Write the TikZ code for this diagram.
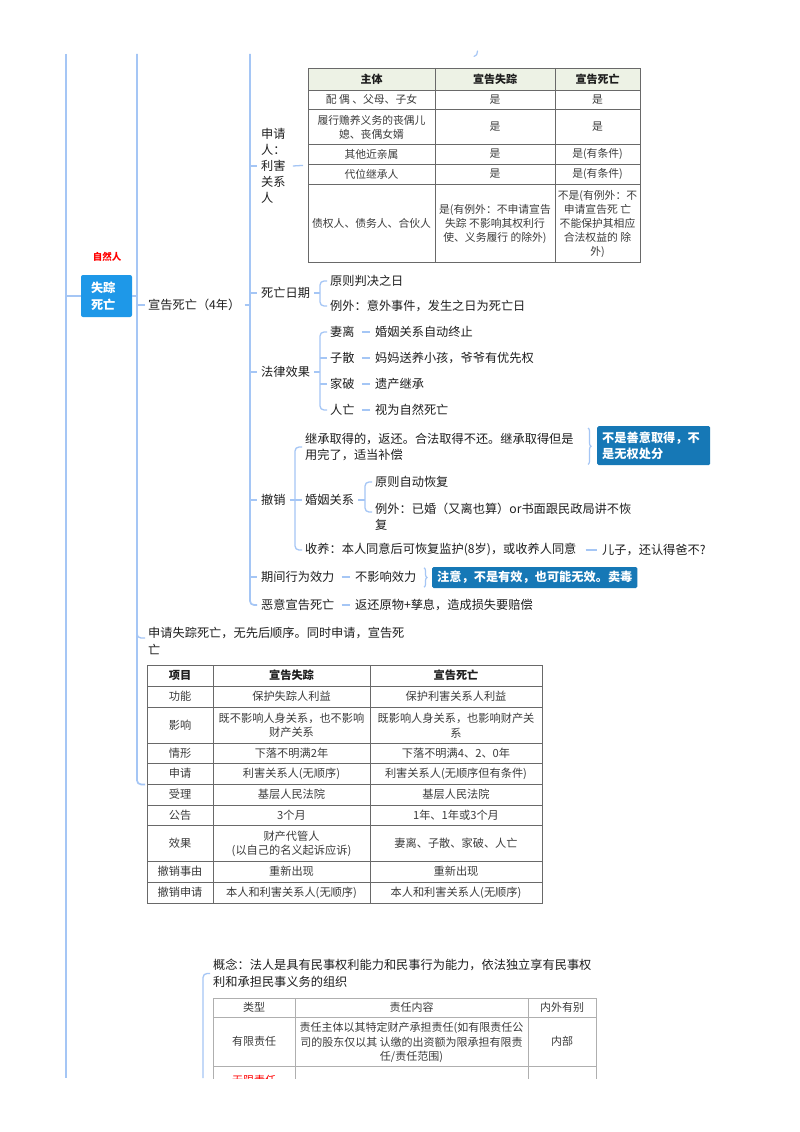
\documentclass[tikz,border=0pt]{standalone}
\usepackage{fontspec}
\setmainfont{Noto Sans CJK SC}
\usetikzlibrary{decorations.pathreplacing}
\definecolor{lineblue}{RGB}{165,198,245}
\definecolor{boxblue}{RGB}{30,152,232}
\definecolor{callblue}{RGB}{22,120,182}
\definecolor{hdrgreen}{RGB}{237,242,229}
\definecolor{txt}{RGB}{30,30,30}
\definecolor{celltxt}{RGB}{60,60,60}
\definecolor{tblline}{RGB}{105,105,105}
\definecolor{tbllight}{RGB}{175,175,175}
\begin{document}
\begin{tikzpicture}[x=1pt,y=-1pt,
  mm/.style={anchor=west, inner sep=0pt, text=txt, font=\fontsize{12.2}{16}\selectfont, align=left},
  cella/.style={inner sep=0pt, text=celltxt, font=\fontsize{10.8}{14}\selectfont, align=center},
  hcella/.style={inner sep=0pt, text=txt, font=\fontsize{11}{14}\selectfont\bfseries, align=center},
  cellb/.style={inner sep=0pt, text=celltxt, font=\fontsize{11.2}{14.5}\selectfont, align=center},
  hcellb/.style={inner sep=0pt, text=txt, font=\fontsize{11.2}{14.5}\selectfont\bfseries, align=center},
  cellc/.style={inner sep=0pt, text=celltxt, font=\fontsize{11}{14.5}\selectfont, align=center},
  conn/.style={draw=lineblue, line width=1.3pt, rounded corners=4pt},
  trunk/.style={draw=lineblue, line width=1.7pt, rounded corners=4pt},
  brc/.style={draw=lineblue, line width=1.2pt, decorate, decoration={brace, amplitude=3pt}},
  callout/.style={fill=callblue, rounded corners=1.5pt, text=white, font=\fontsize{12.2}{16}\selectfont\bfseries, align=left, inner xsep=5pt, inner ysep=0pt},
  grida/.style={draw=tblline, line width=0.8pt},
  gridc/.style={draw=tbllight, line width=0.8pt},
]
\useasboundingbox (0,0) rectangle (800,1132);
\fill[white] (0,0) rectangle (800,1132);

\coordinate (xA) at (66,0);
\coordinate (xB) at (137,0);
\coordinate (xC) at (250,0);
\coordinate (xD) at (320,0);
\coordinate (xE) at (295,0);
\coordinate (xF) at (365,0);

% ---------- root ----------
\node[fill=boxblue, rounded corners=2pt, text=white, font=\fontsize{12.2}{17}\selectfont\bfseries, align=left, text width=31pt, inner xsep=10pt, inner ysep=0pt, minimum height=42pt] (szsw) at (106.5,296) {失踪\\死亡};
\node[text=red, font=\fontsize{9.5}{11}\selectfont\bfseries, inner sep=0pt] (zrr) at (107,257) {自然人};

\draw[trunk] (66,54) -- (66,1078);
\draw[conn] (xA |- szsw.west) -- (szsw.west);

% ---------- level 2 ----------
\node[mm] (xgsw) at (148,305) {宣告死亡（4年）};
\node[mm, font=\fontsize{12.2}{17}\selectfont] (sq) at (148,641) {申请失踪死亡，无先后顺序。同时申请，宣告死\\亡};
\node[grida, draw, minimum width=395pt, minimum height=238pt, inner sep=0pt, anchor=north west] (t2) at (147,665) {};

\draw[conn] (szsw.east) -- (xB |- szsw.east);
\draw[trunk] (137,54) |- ([xshift=-2pt]t2.west);
\draw[conn] (xB |- xgsw.west) -- ([xshift=-3pt]xgsw.west);
\draw[conn] (137,600) |- ([xshift=-3pt,yshift=3pt]sq.west);

% ---------- level 3 ----------
\node[mm] (sqr) at (261,166) {申请\\人：\\利害\\关系\\人};
\node[mm] (swrq) at (261,293) {死亡日期};
\node[mm] (flxg) at (261,372) {法律效果};
\node[mm] (cx) at (261,500) {撤销};
\node[mm] (qjxw) at (261,577) {期间行为效力};
\node[mm] (emy) at (261,605) {恶意宣告死亡};

\draw[conn] ([xshift=4pt]xgsw.east) -- (xC |- xgsw.east);
\draw[trunk] (250,54) |- ([xshift=-4pt]emy.west);
\foreach \n in {sqr,swrq,flxg,cx,qjxw} \draw[conn] (xC |- \n.west) -- ([xshift=-4pt]\n.west);

% small mark at top
\draw[lineblue, line width=1.2pt, line cap=round] (477.5,51) .. controls (477.5,54) and (476.5,56) .. (474,56.5);

% ---------- table 1 ----------
\fill[hdrgreen] (308,68) rectangle (640,90);
\node[grida, draw, minimum width=332pt, minimum height=194pt, inner sep=0pt, anchor=north west] (t1) at (308,68) {};
\foreach \y in {90,109,144,164,184} \draw[grida] (308,\y) -- (640,\y);
\foreach \x in {435,555} \draw[grida] (\x,68) -- (\x,262);
\draw[conn] ([xshift=7pt]sqr.east) -- ([xshift=-5pt]t1.west);

\node[hcella] (t1h1) at (371.5,79) {主体};
\node[hcella] (t1h2) at (495,79) {宣告失踪};
\node[hcella] (t1h3) at (597.5,79) {宣告死亡};
\node[cella] (t1a1) at (371.5,99.5) {配 偶 、父母、子女};
\node[cella] (t1a2) at (495,99.5) {是};
\node[cella] (t1a3) at (597.5,99.5) {是};
\node[cella] (t1b1) at (371.5,127) {履行赡养义务的丧偶儿\\媳、丧偶女婿};
\node[cella] (t1b2) at (495,126.5) {是};
\node[cella] (t1b3) at (597.5,126.5) {是};
\node[cella] (t1c1) at (371.5,154) {其他近亲属};
\node[cella] (t1c2) at (495,154) {是};
\node[cella] (t1c3) at (597.5,154) {是(有条件)};
\node[cella] (t1d1) at (371.5,174) {代位继承人};
\node[cella] (t1d2) at (495,174) {是};
\node[cella] (t1d3) at (597.5,174) {是(有条件)};
\node[cella] (t1e1) at (371.5,223) {债权人、债务人、合伙人};
\node[cella] (t1e2) at (495,224) {是(有例外：不申请宣告\\失踪 不影响其权利行\\使、义务履行 的除外)};
\node[cella] (t1e3) at (597.5,224) {不是(有例外：不\\申请宣告死 亡\\不能保护其相应\\合法权益的 除\\外)};

% ---------- 死亡日期 ----------
\node[mm] (yzpj) at (330,281) {原则判决之日};
\node[mm] (lwsj) at (330,306) {例外：意外事件，发生之日为死亡日};
\draw[conn] ([xshift=4pt]swrq.east) -- (xD |- swrq.east);
\draw[conn] ([xshift=-3pt]yzpj.west) -| (xD |- lwsj.west) -- ([xshift=-3pt]lwsj.west);

% ---------- 法律效果 ----------
\node[mm] (ql) at (330,332) {妻离};
\node[mm] (zs) at (330,358) {子散};
\node[mm] (jp) at (330,384) {家破};
\node[mm] (rw) at (330,410) {人亡};
\node[mm] (ql2) at (375,332) {婚姻关系自动终止};
\node[mm] (zs2) at (375,358) {妈妈送养小孩，爷爷有优先权};
\node[mm] (jp2) at (375,384) {遗产继承};
\node[mm] (rw2) at (375,410) {视为自然死亡};
\draw[conn] ([xshift=4pt]flxg.east) -- (xD |- flxg.east);
\draw[conn] ([xshift=-3pt]ql.west) -| (xD |- rw.west) -- ([xshift=-3pt]rw.west);
\draw[conn] (xD |- zs.west) -- ([xshift=-3pt]zs.west);
\draw[conn] (xD |- jp.west) -- ([xshift=-3pt]jp.west);
\foreach \a/\b in {ql/ql2,zs/zs2,jp/jp2,rw/rw2} \draw[conn] ([xshift=7pt]\a.east) -- ([xshift=-5pt]\b.west);

% ---------- 撤销 ----------
\node[mm] (jcqd) at (305,447) {继承取得的，返还。合法取得不还。继承取得但是\\用完了，适当补偿};
\node[mm] (hygx) at (305,500) {婚姻关系};
\node[mm] (sy) at (305,550) {收养：本人同意后可恢复监护(8岁)，或收养人同意};
\node[mm] (ez) at (602,550) {儿子，还认得爸不?};
\draw[conn] ([xshift=4pt]cx.east) -- (xE |- cx.east);
\draw[conn] ([xshift=-3pt]jcqd.west) -| (xE |- sy.west) -- ([xshift=-3pt]sy.west);
\draw[conn] (xE |- hygx.west) -- ([xshift=-3pt]hygx.west);
\draw[conn] ([xshift=9pt]sy.east) -- ([xshift=-5pt]ez.west);

\node[mm] (yzzd) at (375,482) {原则自动恢复};
\node[mm] (lwyh) at (375,517) {例外：已婚（又离也算）or书面跟民政局讲不恢\\复};
\draw[conn] ([xshift=4pt]hygx.east) -- (xF |- hygx.east);
\draw[conn] ([xshift=-3pt]yzzd.west) -| ([xshift=-10pt,yshift=5pt]lwyh.west) -- ([xshift=-3pt,yshift=5pt]lwyh.west);

\node[callout, text width=103pt, minimum height=39pt, anchor=north west] (bsy) at (597,426) {不是善意取得，不\\是无权处分};
\draw[brc] ([xshift=-9pt,yshift=-2pt]bsy.north west) -- ([xshift=-9pt,yshift=1pt]bsy.south west);

% ---------- 期间行为效力 ----------
\node[mm] (byxxl) at (355,577) {不影响效力};
\draw[conn] ([xshift=7pt]qjxw.east) -- ([xshift=-5pt]byxxl.west);
\node[callout, minimum height=21pt, anchor=west] (zy) at (432,577.5) {注意，不是有效，也可能无效。卖毒};
\draw[brc] ([xshift=-8pt,yshift=-1pt]zy.north west) -- ([xshift=-8pt,yshift=1pt]zy.south west);

% ---------- 恶意宣告死亡 ----------
\node[mm] (fhyw) at (355,605) {返还原物+孳息，造成损失要赔偿};
\draw[conn] ([xshift=7pt]emy.east) -- ([xshift=-5pt]fhyw.west);

% ---------- table 2 ----------
\foreach \y in {686,707,743,763,784,805,825,861,882} \draw[grida] (147,\y) -- (542,\y);
\foreach \x in {213,370} \draw[grida] (\x,665) -- (\x,903);
\node[hcellb] (t2h1) at (180,675.5) {项目};
\node[hcellb] (t2h2) at (291.5,675.5) {宣告失踪};
\node[hcellb] (t2h3) at (456,675.5) {宣告死亡};
\node[cellb] (t2a1) at (180,696.5) {功能};
\node[cellb] (t2a2) at (291.5,696.5) {保护失踪人利益};
\node[cellb] (t2a3) at (456,696.5) {保护利害关系人利益};
\node[cellb] (t2b1) at (180,725) {影响};
\node[cellb] (t2b2) at (291.5,725.5) {既不影响人身关系，也不影响\\财产关系};
\node[cellb] (t2b3) at (456,725.5) {既影响人身关系，也影响财产关\\系};
\node[cellb] (t2c1) at (180,753) {情形};
\node[cellb] (t2c2) at (291.5,753) {下落不明满2年};
\node[cellb] (t2c3) at (456,753) {下落不明满4、2、0年};
\node[cellb] (t2d1) at (180,773.5) {申请};
\node[cellb] (t2d2) at (291.5,773.5) {利害关系人(无顺序)};
\node[cellb] (t2d3) at (456,773.5) {利害关系人(无顺序但有条件)};
\node[cellb] (t2e1) at (180,794.5) {受理};
\node[cellb] (t2e2) at (291.5,794.5) {基层人民法院};
\node[cellb] (t2e3) at (456,794.5) {基层人民法院};
\node[cellb] (t2f1) at (180,815) {公告};
\node[cellb] (t2f2) at (291.5,815) {3个月};
\node[cellb] (t2f3) at (456,815) {1年、1年或3个月};
\node[cellb] (t2g1) at (180,843) {效果};
\node[cellb] (t2g2) at (291.5,844) {财产代管人\\(以自己的名义起诉应诉)};
\node[cellb] (t2g3) at (456,843) {妻离、子散、家破、人亡};
\node[cellb] (t2h1b) at (180,871.5) {撤销事由};
\node[cellb] (t2h2b) at (291.5,871.5) {重新出现};
\node[cellb] (t2h3b) at (456,871.5) {重新出现};
\node[cellb] (t2i1) at (180,892.5) {撤销申请};
\node[cellb] (t2i2) at (291.5,892.5) {本人和利害关系人(无顺序)};
\node[cellb] (t2i3) at (456,892.5) {本人和利害关系人(无顺序)};

% ---------- 概念 + table 3 ----------
\node[mm, font=\fontsize{12.2}{17}\selectfont] (gn) at (213,973.5) {概念：法人是具有民事权利能力和民事行为能力，依法独立享有民事权\\利和承担民事义务的组织};
\draw[conn] ([xshift=-3pt]gn.west) -| (203,1078);
\begin{scope}
\clip (150,990) rectangle (650,1078);
\node[gridc, draw, minimum width=383pt, minimum height=110pt, inner sep=0pt, anchor=north west] (t3) at (213,998) {};
\draw[gridc] (213,1017) -- (596,1017);
\draw[gridc] (213,1066) -- (596,1066);
\foreach \x in {295,528} \draw[gridc] (\x,998) -- (\x,1110);
\node[cellc] (t3h1) at (254,1007.5) {类型};
\node[cellc] (t3h2) at (411.5,1007.5) {责任内容};
\node[cellc] (t3h3) at (562,1007.5) {内外有别};
\node[cellc] (t3a1) at (254,1041.5) {有限责任};
\node[cellc] (t3a2) at (411.5,1042.5) {责任主体以其特定财产承担责任(如有限责任公\\司的股东仅以其 认缴的出资额为限承担有限责\\任/责任范围)};
\node[cellc] (t3a3) at (562,1041.5) {内部};
\node[cellc, text=red] (t3b1) at (254,1080) {无限责任};
\end{scope}
\end{tikzpicture}
\end{document}
